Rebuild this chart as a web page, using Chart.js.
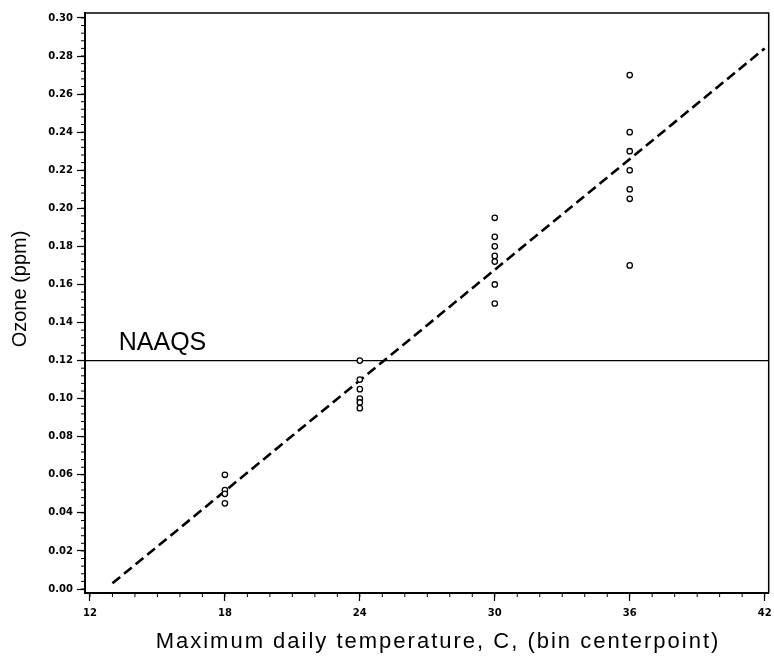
<!DOCTYPE html>
<html>
<head>
  <title>Ozone vs Maximum Daily Temperature</title>
  <style>
    body {
      margin: 0;
      background: #fff;
    }
    .chart-wrap {
      width: 774px;
      height: 663px;
    }
  </style>
</head>
<body>
  <div class="chart-wrap">
    <canvas id="ozoneChart" width="774" height="663"></canvas>
  </div>

  <script src="https://cdn.jsdelivr.net/npm/chart.js"></script>
  <script>
    // bin centerpoints (C) and the ozone readings (ppm) in each bin
    const binCenters = [18, 24, 30, 36];
    const ozoneBin18 = [0.060, 0.052, 0.050, 0.045];
    const ozoneBin24 = [0.120, 0.110, 0.105, 0.100, 0.098, 0.095];
    const ozoneBin30 = [0.195, 0.185, 0.180, 0.175, 0.172, 0.160, 0.150];
    const ozoneBin36 = [0.270, 0.240, 0.230, 0.220, 0.210, 0.205, 0.170];

    // dashed regression line end points
    const fitTemps = [13, 42];
    const fitOzone = [0.003, 0.284];

    // NAAQS standard
    const naaqsLevel = 0.12;
    const naaqsLabel = 'NAAQS';

    // axes
    const xTicks = [12, 18, 24, 30, 36, 42];
    const yTicks = [0.00, 0.02, 0.04, 0.06, 0.08, 0.10, 0.12, 0.14, 0.16, 0.18, 0.20, 0.22, 0.24, 0.26, 0.28, 0.30];
    const xMin = 11.78, xMax = 42.18;
    const yMin = -0.0021, yMax = 0.3026;
    const xTitle = 'Maximum daily temperature, C, (bin centerpoint)';
    const yTitle = 'Ozone (ppm)';

    const ozoneBins = [ozoneBin18, ozoneBin24, ozoneBin30, ozoneBin36];
    const points = [];
    binCenters.forEach((t, i) => {
      ozoneBins[i].forEach(v => points.push({ x: t, y: v }));
    });

    const fitPoints = fitTemps.map((t, i) => ({ x: t, y: fitOzone[i] }));
    const naaqsPoints = [{ x: xMin, y: naaqsLevel }, { x: xMax, y: naaqsLevel }];

    const tickFont = { family: 'DejaVu Sans', size: 10, weight: 'bold' };

    // frame, minor ticks, axis titles and the NAAQS label
    const extrasPlugin = {
      id: 'extras',
      afterDraw(chart) {
        const ctx = chart.ctx;
        const a = chart.chartArea;
        const xs = chart.scales.x;
        const ys = chart.scales.y;
        ctx.save();
        ctx.strokeStyle = '#000';

        // box round the plot
        ctx.lineWidth = 1.5;
        ctx.beginPath();
        ctx.moveTo(a.left, a.top);
        ctx.lineTo(a.right, a.top);
        ctx.lineTo(a.right, a.bottom);
        ctx.stroke();

        // minor ticks
        ctx.lineWidth = 1;
        ctx.beginPath();
        for (let t = 12; t <= 42; t += 1) {
          const px = xs.getPixelForValue(t);
          ctx.moveTo(px, a.bottom);
          ctx.lineTo(px, a.bottom + 4);
        }
        for (let k = 0; k <= 75; k++) {
          const py = ys.getPixelForValue(k * 0.004);
          ctx.moveTo(a.left, py);
          ctx.lineTo(a.left - 4, py);
        }
        ctx.stroke();

        ctx.fillStyle = '#000';

        // label above the standard line
        ctx.font = '25px "Liberation Sans", Arial, sans-serif';
        ctx.textAlign = 'left';
        ctx.textBaseline = 'alphabetic';
        ctx.fillText(naaqsLabel, xs.getPixelForValue(13.28), ys.getPixelForValue(naaqsLevel) - 11);

        // axis titles (the scanned original is set with loose spacing)
        ctx.textAlign = 'center';
        ctx.textBaseline = 'middle';
        ctx.font = '22px "Liberation Sans", Arial, sans-serif';
        ctx.letterSpacing = '2px';
        ctx.fillText(xTitle, 438, 642);

        ctx.letterSpacing = '0px';
        ctx.font = '20px "Liberation Sans", Arial, sans-serif';
        ctx.translate(20, 289);
        ctx.rotate(-Math.PI / 2);
        ctx.fillText(yTitle, 0, 0);
        ctx.restore();
      }
    };

    const ctx = document.getElementById('ozoneChart').getContext('2d');
    const chart = new Chart(ctx, {
      type: 'scatter',
      data: {
        datasets: [
          {
            label: 'Ozone',
            data: points,
            pointStyle: 'circle',
            pointRadius: 2.7,
            pointBorderWidth: 1.3,
            pointBorderColor: '#000',
            pointBackgroundColor: '#fff',
            order: 0
          },
          {
            label: 'Fit',
            type: 'line',
            data: fitPoints,
            borderColor: '#000',
            borderWidth: 2.6,
            borderDash: [10, 5],
            pointRadius: 0,
            fill: false,
            order: 1
          },
          {
            label: 'NAAQS',
            type: 'line',
            data: naaqsPoints,
            borderColor: '#000',
            borderWidth: 1.3,
            pointRadius: 0,
            fill: false,
            order: 2
          }
        ]
      },
      options: {
        responsive: false,
        animation: false,
        layout: {
          padding: { top: 13, right: 0, left: 0, bottom: 0 }
        },
        plugins: {
          legend: { display: false },
          tooltip: { enabled: false }
        },
        scales: {
          x: {
            type: 'linear',
            min: xMin,
            max: xMax,
            afterBuildTicks: (scale) => {
              scale.ticks = xTicks.map(v => ({ value: v }));
            },
            afterFit: (scale) => {
              scale.height = 70;
              scale.paddingLeft = 0;
              scale.paddingRight = 0;
            },
            ticks: {
              color: '#000',
              font: tickFont,
              padding: 6,
              maxRotation: 0,
              callback: (v) => String(v)
            },
            grid: {
              drawOnChartArea: false,
              drawTicks: true,
              tickLength: 8,
              tickWidth: 1.2,
              tickColor: '#000'
            },
            border: { display: true, color: '#000', width: 2 },
            title: { display: false }
          },
          y: {
            type: 'linear',
            min: yMin,
            max: yMax,
            afterBuildTicks: (scale) => {
              scale.ticks = yTicks.map(v => ({ value: v }));
            },
            afterFit: (scale) => {
              scale.width = 85;
              scale.paddingTop = 0;
              scale.paddingBottom = 0;
            },
            ticks: {
              color: '#000',
              font: tickFont,
              padding: 4,
              callback: (v) => v.toFixed(2)
            },
            grid: {
              drawOnChartArea: false,
              drawTicks: true,
              tickLength: 8,
              tickWidth: 1.2,
              tickColor: '#000'
            },
            border: { display: true, color: '#000', width: 2 },
            title: { display: false }
          }
        }
      },
      plugins: [extrasPlugin]
    });
  </script>
</body>
</html>
